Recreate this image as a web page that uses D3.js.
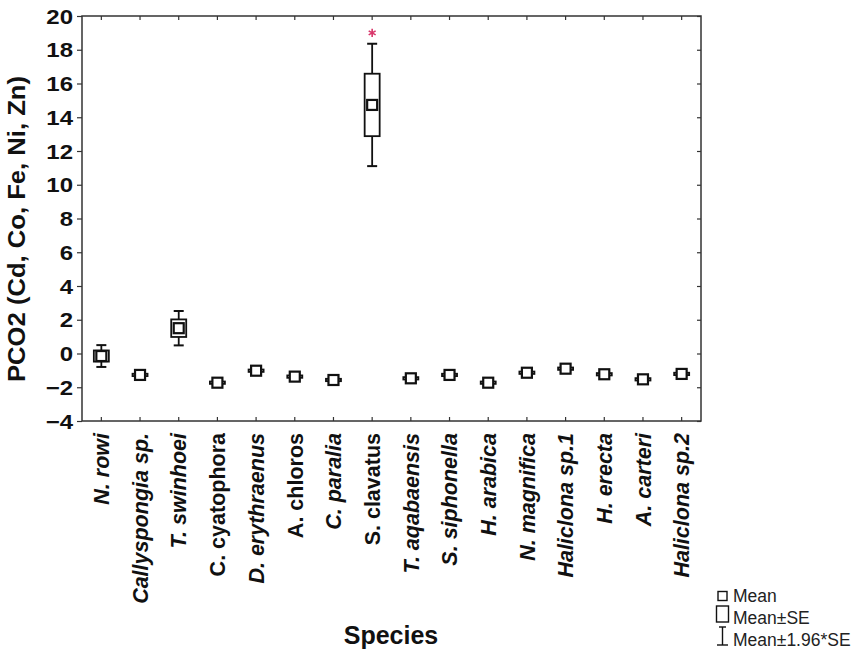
<!DOCTYPE html>
<html>
<head>
<meta charset="utf-8">
<script src="https://cdn.jsdelivr.net/npm/d3@7"></script>
<style>
  body { margin: 0; background: #fff; }
  svg { font-family: "Liberation Sans", Arial, sans-serif; }
  .axis text { fill: #111; }
</style>
</head>
<body>
<div id="chart"></div>
<script>
// data
var species = ["N. rowi", "Callyspongia sp.", "T. swinhoei", "C. cyatophora", "D. erythraenus",
    "A. chloros", "C. paralia", "S. clavatus", "T. aqabaensis", "S. siphonella", "H. arabica",
    "N. magnifica", "Haliclona sp.1", "H. erecta", "A. carteri", "Haliclona sp.2"];
var means = [-0.15, -1.27, 1.5, -1.73, -1.02, -1.37, -1.57, 14.73, -1.47, -1.27, -1.73, -1.14, -0.9, -1.23, -1.53, -1.21];
var se = [0.33, 0.07, 0.52, 0.07, 0.07, 0.07, 0.07, 1.85, 0.07, 0.07, 0.07, 0.07, 0.07, 0.07, 0.07, 0.07];
var outlierSpecies = ["S. clavatus"];
var outlierValues = [19.0];
var yTicks = [-4, -2, 0, 2, 4, 6, 8, 10, 12, 14, 16, 18, 20];
var uprightNames = ["C. cyatophora", "A. chloros", "S. clavatus"];

var W = 863, H = 653;
var margin = { top: 16, right: 162, bottom: 232, left: 82 },
    width = W - margin.left - margin.right,
    height = H - margin.top - margin.bottom;

var svg = d3.select("#chart").append("svg")
    .attr("width", W)
    .attr("height", H);

var g = svg.append("g")
    .attr("transform", "translate(" + margin.left + "," + margin.top + ")");

var x = d3.scaleBand()
    .domain(species)
    .range([0, width])
    .paddingInner(0)
    .paddingOuter(0);

var y = d3.scaleLinear()
    .domain([-4, 20])
    .range([height, 0]);

var frameColor = "#333";

// frame
g.append("rect")
    .attr("width", width)
    .attr("height", height)
    .attr("fill", "none")
    .attr("stroke", frameColor)
    .attr("stroke-width", 1.5);

// left axis, outward ticks
var leftAxis = d3.axisLeft(y).tickValues(yTicks).tickSize(5).tickFormat(d3.format("d"));
g.append("g").attr("class", "axis").call(leftAxis)
    .call(s => s.select(".domain").remove())
    .call(s => s.selectAll(".tick line").attr("stroke", frameColor).attr("stroke-width", 1.2))
    .selectAll(".tick text")
    .attr("x", 0)
    .attr("transform", "translate(-9,0) scale(1.2,1)")
    .attr("font-size", 20)
    .attr("font-weight", "bold")
    .attr("dy", "0.36em");

// right axis, inward ticks
g.append("g").attr("class", "axis")
    .attr("transform", "translate(" + width + ",0)")
    .call(d3.axisRight(y).tickValues(yTicks).tickSize(-4).tickFormat(""))
    .call(s => s.select(".domain").remove())
    .selectAll(".tick line").attr("stroke", frameColor).attr("stroke-width", 1.2);

// top axis, inward ticks
g.append("g").attr("class", "axis")
    .call(d3.axisTop(x).tickSize(-4).tickFormat(""))
    .call(s => s.select(".domain").remove())
    .selectAll(".tick line").attr("stroke", frameColor).attr("stroke-width", 1.2);

// bottom axis, inward ticks, rotated labels
g.append("g").attr("class", "axis")
    .attr("transform", "translate(0," + height + ")")
    .call(d3.axisBottom(x).tickSize(-4))
    .call(s => s.select(".domain").remove())
    .call(s => s.selectAll(".tick line").attr("stroke", frameColor).attr("stroke-width", 1.2))
    .selectAll(".tick text")
    .attr("y", 0)
    .attr("x", -12)
    .attr("dy", "0.36em")
    .attr("transform", "rotate(-90)")
    .attr("text-anchor", "end")
    .attr("font-size", 21.5)
    .attr("font-weight", "bold")
    .attr("font-style", d => uprightNames.indexOf(d) >= 0 ? "normal" : "italic");

// axis titles
svg.append("text")
    .attr("transform", "translate(25," + (margin.top + 213) + ") rotate(-90)")
    .attr("text-anchor", "middle")
    .attr("font-size", 23)
    .attr("font-weight", "bold")
    .attr("fill", "#111")
    .attr("textLength", 306)
    .attr("lengthAdjust", "spacingAndGlyphs")
    .text("PCO2 (Cd, Co, Fe, Ni, Zn)");

svg.append("text")
    .attr("x", 391)
    .attr("y", 644)
    .attr("text-anchor", "middle")
    .attr("font-size", 25)
    .attr("font-weight", "bold")
    .attr("fill", "#111")
    .text("Species");

// box plot marks
var boxW = 15, capW = 10, markW = 10;
var marks = g.append("g").selectAll("g")
    .data(species.map((s, i) => ({ name: s, mean: means[i], se: se[i] })))
    .join("g")
    .attr("transform", d => "translate(" + (x(d.name) + x.bandwidth() / 2) + ",0)");

// whiskers
marks.append("line")
    .attr("y1", d => y(d.mean + 1.96 * d.se))
    .attr("y2", d => y(d.mean - 1.96 * d.se))
    .attr("stroke", "#111").attr("stroke-width", 1.8);
marks.selectAll("line.cap")
    .data(d => [d.mean + 1.96 * d.se, d.mean - 1.96 * d.se])
    .join("line")
    .attr("class", "cap")
    .attr("x1", -capW / 2).attr("x2", capW / 2)
    .attr("y1", v => y(v)).attr("y2", v => y(v))
    .attr("stroke", "#111").attr("stroke-width", 2);

// SE box
marks.append("rect")
    .attr("x", -boxW / 2)
    .attr("width", boxW)
    .attr("y", d => y(d.mean + d.se))
    .attr("height", d => y(d.mean - d.se) - y(d.mean + d.se))
    .attr("fill", "#fff")
    .attr("stroke", "#111")
    .attr("stroke-width", 1.8);

// mean marker
marks.append("rect")
    .attr("x", -markW / 2)
    .attr("width", markW)
    .attr("y", d => y(d.mean) - markW / 2)
    .attr("height", markW)
    .attr("fill", "#fff")
    .attr("stroke", "#111")
    .attr("stroke-width", 2.2);

// outliers
g.selectAll("path.outlier")
    .data(outlierSpecies.map((s, i) => ({ name: s, value: outlierValues[i] })))
    .join("path")
    .attr("class", "outlier")
    .attr("transform", d => "translate(" + (x(d.name) + x.bandwidth() / 2) + "," + y(d.value) + ")")
    .attr("d", d3.symbol().type(d3.symbolAsterisk).size(45))
    .attr("fill", "none")
    .attr("stroke", "#d8366a")
    .attr("stroke-width", 1.6);

// legend
var legend = svg.append("g").attr("transform", "translate(722,0)");
var legendLabels = ["Mean", "Mean\u00b1SE", "Mean\u00b11.96*SE"];
var legendY = [596, 614, 636];
legend.append("rect").attr("x", -4).attr("y", legendY[0] - 4.5).attr("width", 9).attr("height", 9)
    .attr("fill", "#fff").attr("stroke", "#111").attr("stroke-width", 1.4);
legend.append("rect").attr("x", -5.5).attr("y", legendY[1] - 8).attr("width", 12).attr("height", 16)
    .attr("fill", "#fff").attr("stroke", "#111").attr("stroke-width", 1.4);
legend.append("line").attr("x1", 0.5).attr("x2", 0.5).attr("y1", legendY[2] - 9).attr("y2", legendY[2] + 9)
    .attr("stroke", "#111").attr("stroke-width", 1.4);
legend.append("line").attr("x1", -3).attr("x2", 4).attr("y1", legendY[2] - 9).attr("y2", legendY[2] - 9)
    .attr("stroke", "#111").attr("stroke-width", 1.4);
legend.append("line").attr("x1", -5).attr("x2", 6).attr("y1", legendY[2] + 9).attr("y2", legendY[2] + 9)
    .attr("stroke", "#111").attr("stroke-width", 1.4);
legend.selectAll("text")
    .data(legendLabels)
    .join("text")
    .attr("x", 11)
    .attr("y", (d, i) => [602, 624, 646][i])
    .attr("font-size", 17.5)
    .attr("fill", "#222")
    .text(d => d);
</script>
</body>
</html>
